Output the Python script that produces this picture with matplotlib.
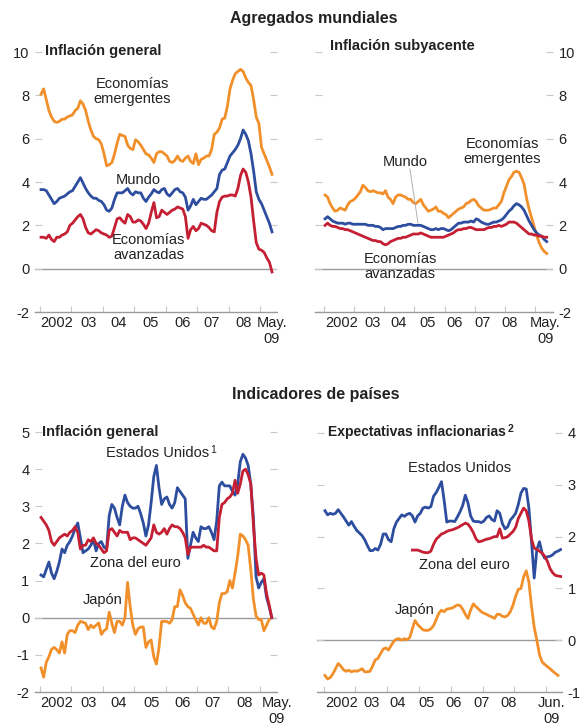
import numpy as np
import matplotlib
matplotlib.use('Agg')
import matplotlib.pyplot as plt

plt.rcParams['font.family'] = ['Liberation Sans', 'DejaVu Sans']
plt.rcParams['axes.unicode_minus'] = False

# ---------------------------------------------------------------
# data: monthly values, Jan 2002 onwards (month index 0 = Jan 2002)
# ---------------------------------------------------------------

# Agregados mundiales - Inflación general (Jan 2002 - May 2009)
gen_emergentes = [
    8.05, 8.3, 7.8, 7.3, 7.0, 6.8, 6.75, 6.8, 6.9, 6.9, 7.0, 7.05,
    7.1, 7.3, 7.4, 7.75, 7.6, 7.3, 6.8, 6.4, 6.1, 6.0, 5.95, 5.75,
    5.3, 4.75, 4.8, 4.9, 5.3, 5.8, 6.2, 6.15, 6.1, 5.7, 5.55, 5.5,
    5.95, 5.85, 5.7, 5.5, 5.3, 5.25, 5.1, 4.9, 5.3, 5.4, 5.4, 5.3,
    5.2, 4.95, 4.9, 5.0, 5.2, 5.0, 4.95, 5.1, 5.2, 4.95, 4.85, 5.3,
    4.8, 5.05, 5.1, 5.2, 5.2, 5.5, 6.2, 6.3, 6.5, 6.9, 6.95, 7.5,
    8.3, 8.7, 9.0, 9.1, 9.2, 9.1, 8.8, 8.6, 8.45, 7.8, 7.0, 6.7,
    5.6, 5.3, 5.0, 4.7, 4.35,
]
gen_mundo = [
    3.65, 3.65, 3.6, 3.4, 3.2, 3.0, 3.1, 3.25, 3.3, 3.35, 3.45, 3.55,
    3.6, 3.8, 4.0, 4.2, 3.95, 3.7, 3.5, 3.35, 3.25, 3.25, 3.15, 3.1,
    2.95, 2.7, 2.65, 2.8, 3.2, 3.5, 3.5, 3.5, 3.6, 3.7, 3.5, 3.4,
    3.55, 3.5, 3.5, 3.25, 3.1, 3.3, 3.45, 3.65, 3.55, 3.5, 3.65, 3.7,
    3.45, 3.35, 3.5, 3.65, 3.7, 3.55, 3.5, 3.3, 2.7, 2.9, 3.2, 2.95,
    3.1, 3.25, 3.2, 3.2, 3.3, 3.4, 3.55, 3.7, 4.35, 4.55, 4.6, 4.9,
    5.2, 5.35, 5.5, 5.7, 6.0, 6.4, 6.2, 5.9, 5.3, 4.5, 3.55, 3.2,
    3.0, 2.7, 2.4, 2.1, 1.7,
]
gen_avanzadas = [
    1.45, 1.45, 1.4, 1.55, 1.35, 1.25, 1.45, 1.45, 1.55, 1.6, 1.7, 2.0,
    2.1, 2.25, 2.4, 2.5, 2.3, 1.9, 1.65, 1.6, 1.7, 1.8, 1.75, 1.65,
    1.6, 1.55, 1.45, 1.5, 1.9, 2.3, 2.35, 2.2, 2.1, 2.5, 2.4, 2.15,
    2.15, 2.25, 2.2, 2.05, 1.85, 2.1, 2.6, 3.05, 2.35, 2.4, 2.7, 2.6,
    2.5, 2.6, 2.7, 2.75, 2.85, 2.8, 2.75, 2.4, 1.4, 1.8, 1.95, 1.75,
    1.85, 2.1, 2.05, 2.0, 1.9, 1.75, 1.7, 2.6, 3.1, 3.3, 3.35, 3.35,
    3.4, 3.4, 3.35, 3.7, 4.3, 4.6, 4.45, 4.0, 3.3, 2.2, 1.2, 0.9,
    0.85, 0.75, 0.5, 0.3, -0.15,
]

# Agregados mundiales - Inflación subyacente (Jan 2002 - May 2009)
core_emergentes = [
    3.4, 3.3, 3.0, 2.8, 2.65, 2.7, 2.8, 2.75, 2.7, 2.95, 3.1, 3.15,
    3.25, 3.4, 3.55, 3.85, 3.75, 3.6, 3.55, 3.6, 3.55, 3.5, 3.5, 3.45,
    3.6, 3.3, 3.2, 3.0, 3.3, 3.4, 3.4, 3.35, 3.3, 3.2, 3.2, 3.05,
    3.0, 3.1, 3.2, 2.95, 2.8, 2.65, 2.7, 2.75, 2.85, 2.65, 2.65, 2.55,
    2.5, 2.35, 2.45, 2.55, 2.65, 2.75, 2.8, 2.85, 3.0, 3.05, 3.15, 3.2,
    3.1, 2.9, 2.8, 2.7, 2.7, 2.7, 2.75, 2.8, 2.8, 2.95, 3.1, 3.5,
    3.8, 4.1, 4.25, 4.45, 4.5, 4.45, 4.2, 3.9, 3.25, 2.75, 2.35, 1.95,
    1.55, 1.2, 0.95, 0.8, 0.7,
]
core_mundo = [
    2.3, 2.4, 2.3, 2.2, 2.15, 2.1, 2.1, 2.1, 2.05, 2.1, 2.1, 2.05,
    2.05, 2.05, 2.05, 2.05, 2.05, 2.0, 2.0, 2.0, 1.95, 1.95, 1.9, 1.8,
    1.85, 1.85, 1.85, 1.85, 1.9, 1.95, 1.95, 2.0, 2.0, 2.05, 2.05, 2.0,
    2.0, 2.0, 2.0, 1.95, 1.9, 1.85, 1.8, 1.8, 1.85, 1.8, 1.85, 1.85,
    1.8, 1.75, 1.8, 1.9, 2.0, 2.1, 2.1, 2.15, 2.15, 2.15, 2.2, 2.15,
    2.3, 2.25, 2.15, 2.1, 2.05, 2.05, 2.1, 2.15, 2.15, 2.2, 2.25, 2.35,
    2.5, 2.65, 2.75, 2.9, 3.0, 2.95, 2.85, 2.7, 2.45, 2.2, 2.0, 1.8,
    1.65, 1.55, 1.5, 1.35, 1.25,
]
core_avanzadas = [
    2.0, 2.1, 2.0, 1.95, 1.95, 1.9, 1.85, 1.85, 1.8, 1.8, 1.75, 1.7,
    1.65, 1.6, 1.55, 1.5, 1.45, 1.4, 1.35, 1.3, 1.3, 1.25, 1.25, 1.15,
    1.1, 1.15, 1.25, 1.3, 1.35, 1.4, 1.4, 1.45, 1.45, 1.5, 1.55, 1.6,
    1.6, 1.6, 1.65, 1.6, 1.55, 1.5, 1.45, 1.45, 1.45, 1.45, 1.45, 1.45,
    1.5, 1.55, 1.6, 1.65, 1.75, 1.8, 1.8, 1.85, 1.85, 1.9, 1.9, 1.85,
    1.8, 1.8, 1.8, 1.8, 1.85, 1.9, 1.9, 1.95, 1.95, 2.0, 1.95, 2.0,
    2.05, 2.15, 2.15, 2.15, 2.1, 2.0, 1.9, 1.8, 1.7, 1.6, 1.6, 1.55,
    1.55, 1.5, 1.5, 1.45, 1.45,
]

# Indicadores de países - Inflación general (Jan 2002 - May 2009)
pais_eeuu = [
    1.15, 1.1, 1.3, 1.5, 1.2, 1.05, 1.25, 1.5, 1.85, 1.75, 1.95, 2.05,
    2.2, 2.4, 2.55, 2.15, 1.75, 1.8, 1.85, 1.95, 2.1, 1.8, 2.0, 2.05,
    1.9, 1.85, 2.75, 3.05, 2.95, 2.7, 2.5, 3.0, 3.3, 3.1, 3.0, 2.95,
    2.95, 3.0, 2.8, 2.55, 2.2, 2.5, 3.1, 3.8, 4.1, 3.5, 3.05, 3.2,
    3.25, 3.05, 2.95, 3.1, 3.5, 3.4, 3.3, 3.2, 1.6, 1.95, 2.3, 2.15,
    2.05, 2.45, 2.4, 2.4, 2.45, 2.3, 2.1, 2.6, 3.55, 3.65, 3.55, 3.55,
    3.55, 3.4, 3.3, 3.6, 4.2, 4.4, 4.3, 4.1, 3.6, 2.7, 1.1, 0.8,
    0.95, 1.05, 0.55, 0.3, 0.0,
]
pais_euro = [
    2.7, 2.6, 2.5, 2.35, 2.05, 1.95, 2.05, 2.15, 2.2, 2.25, 2.2, 2.3,
    2.35, 2.45, 2.3, 1.85, 1.95, 1.95, 2.1, 2.05, 2.15, 2.0, 1.95, 1.85,
    1.75, 1.8, 2.35, 2.4, 2.3, 2.2, 2.35, 2.3, 2.3, 2.3, 2.1, 2.15,
    2.15, 2.1, 2.05, 2.0, 1.95, 2.05, 2.15, 2.5, 2.3, 2.25, 2.3, 2.4,
    2.25, 2.4, 2.5, 2.45, 2.45, 2.4, 2.3, 2.15, 1.7, 1.9, 1.9, 1.9,
    1.9, 1.9, 1.95, 1.9, 1.9, 1.85, 1.8, 1.8, 2.7, 3.05, 3.1, 3.2,
    3.25, 3.35, 3.7, 3.35, 3.6, 3.95, 4.0, 3.85, 3.6, 2.5, 1.6, 1.15,
    1.2, 1.15, 0.65, 0.35, 0.0,
]
pais_japon = [
    -1.35, -1.6, -1.2, -1.05, -0.85, -0.8, -0.86, -0.95, -0.65, -0.95, -0.45, -0.35,
    -0.35, -0.4, -0.2, -0.1, -0.12, -0.15, -0.32, -0.2, -0.27, -0.2, -0.14, -0.45,
    -0.35, -0.3, 0.15, -0.15, -0.4, -0.1, -0.1, -0.2, 0.0, 0.95, 0.3, -0.2,
    -0.45, -0.3, -0.25, -0.25, -0.8, -0.65, -0.6, -1.05, -1.25, -0.8, -0.1, -0.1,
    -0.1, -0.15, -0.05, 0.3, 0.3, 0.75, 0.6, 0.4, 0.3, 0.25, 0.1, -0.05,
    -0.2, 0.0, -0.15, -0.15, 0.0, -0.25, -0.3, -0.1, 0.4, 0.65, 0.65, 0.7,
    1.0, 0.8, 1.2, 1.65, 2.25, 2.2, 2.1, 1.95, 1.3, 0.5, 0.05, -0.05,
    -0.05, -0.35, -0.2, -0.05,
]

# Indicadores de países - Expectativas inflacionarias (Jan 2002 - Jun 2009)
exp_eeuu = [
    2.5, 2.42, 2.45, 2.43, 2.45, 2.52, 2.45, 2.38, 2.3, 2.22, 2.29, 2.2,
    2.12, 2.07, 2.02, 1.94, 1.83, 1.73, 1.73, 1.77, 1.74, 1.85, 2.05, 2.05,
    1.94, 1.9, 2.15, 2.28, 2.35, 2.42, 2.39, 2.43, 2.45, 2.4, 2.28, 2.4,
    2.45, 2.55, 2.57, 2.55, 2.58, 2.78, 2.85, 2.95, 3.06, 2.7, 2.28, 2.3,
    2.3, 2.29, 2.38, 2.48, 2.6, 2.8, 2.65, 2.4, 2.3, 2.29, 2.29, 2.27,
    2.3, 2.37, 2.4, 2.33, 2.3, 2.5, 2.45, 2.25, 2.15, 2.19, 2.32, 2.38,
    2.45, 2.62, 2.84, 2.93, 2.92, 2.55, 1.9, 1.2, 1.75, 1.9, 1.68, 1.58,
    1.61, 1.62, 1.65, 1.7, 1.72, 1.75,
]
exp_euro_start = 33  # series begins Oct 2004
exp_euro = [
    1.74, 1.74, 1.74,
    1.72, 1.7, 1.69, 1.69, 1.72, 1.85, 1.95, 2.0, 2.05, 2.07, 2.1, 2.12,
    2.13, 2.15, 2.17, 2.2, 2.23, 2.26, 2.24, 2.17, 2.08, 1.96, 1.9, 1.91,
    1.93, 1.95, 1.96, 1.98, 2.0, 2.0, 2.15, 1.97, 1.98, 2.0, 2.05, 2.1,
    2.18, 2.35, 2.45, 2.55, 2.5, 2.3, 1.95, 1.78, 1.75, 1.72, 1.68, 1.62,
    1.52, 1.38, 1.3, 1.25, 1.24, 1.23,
]
exp_japon = [
    -0.68, -0.75, -0.72, -0.65, -0.55, -0.45, -0.5, -0.57, -0.6, -0.58, -0.61, -0.59,
    -0.6, -0.58, -0.55, -0.61, -0.61, -0.6, -0.5, -0.38, -0.35, -0.26, -0.17, -0.15,
    -0.19, -0.1, -0.02, 0.02, 0.03, 0.0, 0.03, 0.01, 0.05, 0.22, 0.38, 0.3,
    0.25, 0.2, 0.19, 0.19, 0.22, 0.28, 0.4, 0.52, 0.58, 0.55, 0.6, 0.61,
    0.62, 0.65, 0.68, 0.67, 0.6, 0.5, 0.42, 0.58, 0.7, 0.65, 0.6, 0.55,
    0.52, 0.5, 0.47, 0.45, 0.42, 0.5, 0.5, 0.46, 0.45, 0.48, 0.55, 0.68,
    0.85, 0.98, 1.0, 1.22, 1.34, 1.12, 0.65, 0.25, 0.0, -0.28, -0.42, -0.47,
    -0.51, -0.55, -0.6, -0.64, -0.68,
]

year_labels = ['2002', '03', '04', '05', '06', '07', '08']

# ---------------------------------------------------------------
ORANGE = '#f1902a'
BLUE = '#2d4d9e'
RED = '#c41f33'
TXT = '#222222'
GRID = '#9a9a9a'
TICK = '#c8c8c8'

W, H = 585, 727
fig = plt.figure(figsize=(W / 100, H / 100), dpi=100)


def px_axes(x0, y0, x1, y1):
    return fig.add_axes([x0 / W, 1 - y1 / H, (x1 - x0) / W, (y1 - y0) / H])


def fig_text(x, y, s, **kw):
    return fig.text(x / W, 1 - y / H, s, color=TXT, **kw)


def superscript(ax, base, s, **kw):
    # small footnote number just after the end of a text
    ax.annotate(s, xy=(1, 1), xycoords=base, xytext=(1, 1),
                textcoords='offset points', ha='left', va='top',
                fontsize=7.5, color=TXT, annotation_clip=False, **kw)


def style_axes(ax, xlim, ylim, side, xticks, last_label):
    ax.set_xlim(*xlim)
    ax.set_ylim(*ylim)
    for s in ['top', 'left', 'right']:
        ax.spines[s].set_visible(False)
    ax.spines['bottom'].set_color(GRID)
    ax.spines['bottom'].set_linewidth(1.0)
    ax.axhline(0, color=GRID, lw=1.0, zorder=1)

    ax.set_yticks(np.arange(ylim[0], ylim[1] + 0.01, 2 if ylim[1] == 10 else 1))
    ax.tick_params(axis='y', which='both', direction='in', length=5, width=0.8,
                   color=TICK, left=True, right=True, labelsize=10.5,
                   labelcolor=TXT, labelleft=(side == 'left'),
                   labelright=(side == 'right'), pad=4)

    # year boundaries as small ticks, labels near mid-year
    ax.set_xticks(np.arange(0, 96, 12) - 0.5, minor=True)
    ax.set_xticks(xticks)
    ax.set_xticklabels(year_labels + [last_label], linespacing=1.2)
    ax.tick_params(axis='x', which='major', length=0, labelsize=10.5,
                   labelcolor=TXT, pad=3)
    ax.tick_params(axis='x', which='minor', direction='in', length=4,
                   width=0.8, color=TICK)


LW = 2.0
m89 = np.arange(89)

# --- top left: Inflación general ---
ax = px_axes(35, 52, 277, 312)
ax.plot(m89, gen_emergentes, color=ORANGE, lw=LW)
ax.plot(m89, gen_mundo, color=BLUE, lw=LW)
ax.plot(m89, gen_avanzadas, color=RED, lw=LW)
style_axes(ax, (-2.3, 89.9), (-2, 10), 'left',
           [6, 18, 29.7, 41.9, 54, 65, 77.3, 88], 'May.\n09')
ax.text(34.7, 8.18, 'Economías\nemergentes', ha='center', va='center',
        fontsize=10.5, color=TXT, linespacing=1.05)
ax.text(37.0, 4.1, 'Mundo', ha='center', va='center', fontsize=10.5, color=TXT)
ax.text(41.1, 0.98, 'Economías\navanzadas', ha='center', va='center',
        fontsize=10.5, color=TXT, linespacing=1.05)

# --- top right: Inflación subyacente ---
ax = px_axes(315, 52, 553, 312)
ax.plot(m89, core_emergentes, color=ORANGE, lw=LW)
ax.plot(m89, core_mundo, color=BLUE, lw=LW)
ax.plot(m89, core_avanzadas, color=RED, lw=LW)
style_axes(ax, (-4.0, 90.5), (-2, 10), 'right',
           [6.7, 18.7, 29, 40.5, 51.6, 62.7, 73.4, 87.5], 'May.\n09')
ax.text(31.7, 4.94, 'Mundo', ha='center', va='center', fontsize=10.5, color=TXT)
ax.plot([33.7, 36.9], [4.6, 2.1], color='#b0b0b0', lw=0.7)
ax.text(70.4, 5.4, 'Economías\nemergentes', ha='center', va='center',
        fontsize=10.5, color=TXT, linespacing=1.05)
ax.text(29.8, 0.09, 'Economías\navanzadas', ha='center', va='center',
        fontsize=10.5, color=TXT, linespacing=1.05)

# --- bottom left: Inflación general por país ---
ax = px_axes(35, 432, 277, 692)
ax.plot(np.arange(len(pais_japon)), pais_japon, color=ORANGE, lw=LW)
ax.plot(m89, pais_eeuu, color=BLUE, lw=LW)
ax.plot(m89, pais_euro, color=RED, lw=LW)
style_axes(ax, (-2.3, 89.9), (-2, 5), 'left',
           [6, 18, 29.5, 42, 54, 65.5, 77.5, 90], 'May.\n09')
t_us = ax.text(44.3, 4.43, 'Estados Unidos', ha='center', va='center',
               fontsize=10.5, color=TXT)
superscript(ax, t_us, '1')
ax.text(35.8, 1.46, 'Zona del euro', ha='center', va='center',
        fontsize=10.5, color=TXT)
ax.text(23.4, 0.48, 'Japón', ha='center', va='center', fontsize=10.5, color=TXT)

# --- bottom right: Expectativas inflacionarias ---
ax = px_axes(317, 433, 562, 692)
m90 = np.arange(len(exp_eeuu))
ax.plot(m90[:len(exp_japon)], exp_japon, color=ORANGE, lw=LW)
ax.plot(m90, exp_eeuu, color=BLUE, lw=LW)
ax.plot(np.arange(exp_euro_start, exp_euro_start + len(exp_euro)), exp_euro,
        color=RED, lw=LW)
style_axes(ax, (-3.0, 89.5), (-1, 4), 'right',
           [6.4, 17.7, 27.4, 38.3, 48.5, 59, 69.5, 85.7], 'Jun.\n09')
ax.text(50.8, 3.32, 'Estados Unidos', ha='center', va='center',
        fontsize=10.5, color=TXT)
ax.text(52.6, 1.45, 'Zona del euro', ha='center', va='center',
        fontsize=10.5, color=TXT)
ax.text(33.8, 0.58, 'Japón', ha='center', va='center', fontsize=10.5, color=TXT)

# --- titles ---
fig_text(314, 18, 'Agregados mundiales', ha='center', va='center',
         fontsize=11.5, fontweight='bold')
fig_text(316, 395, 'Indicadores de países', ha='center', va='center',
         fontsize=11.5, fontweight='bold')
fig_text(45, 51, 'Inflación general', ha='left', va='center',
         fontsize=10.5, fontweight='bold')
fig_text(330, 46, 'Inflación subyacente', ha='left', va='center',
         fontsize=10.5, fontweight='bold')
fig_text(42, 432, 'Inflación general', ha='left', va='center',
         fontsize=10.5, fontweight='bold')
t_exp = fig_text(328, 432, 'Expectativas inflacionarias', ha='left',
                 va='center', fontsize=10, fontweight='bold')
superscript(ax, t_exp, '2', fontweight='bold')

fig.savefig('out.png', dpi=100, facecolor='white')
